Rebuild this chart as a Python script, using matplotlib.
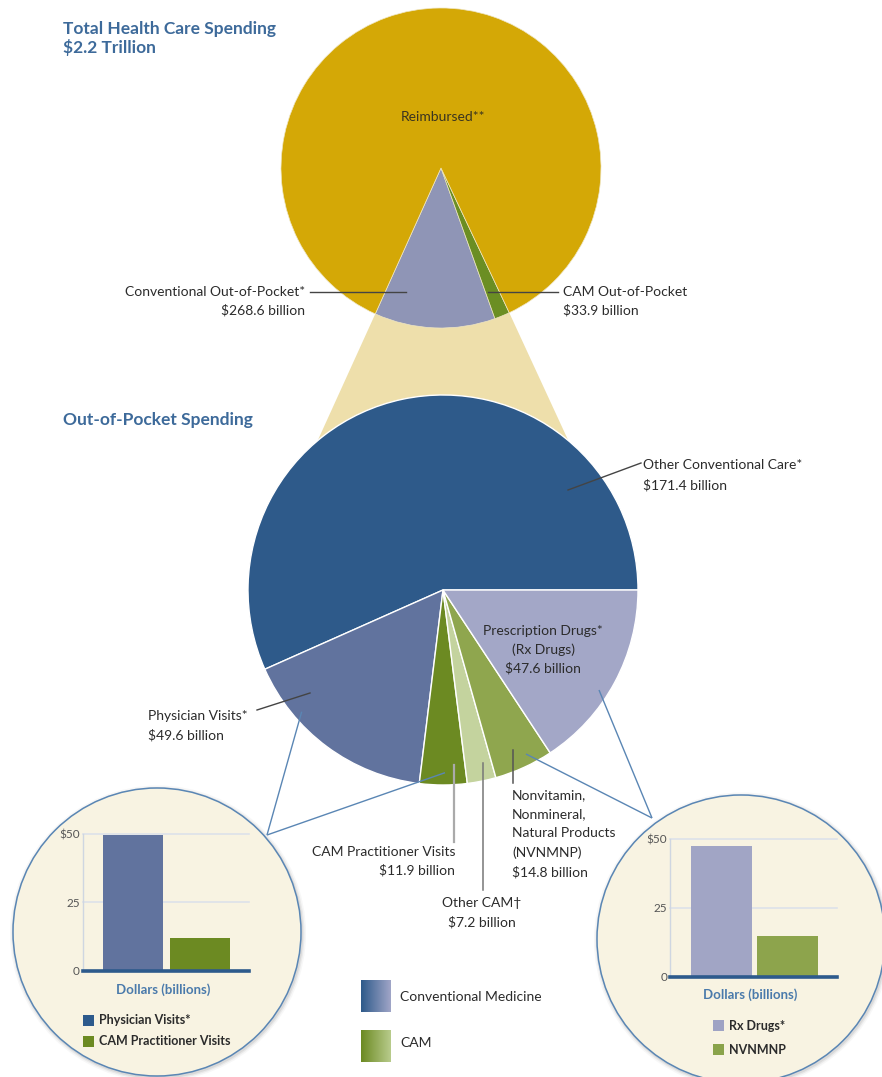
import numpy as np
import matplotlib
matplotlib.use('Agg')
import matplotlib.pyplot as plt
from matplotlib.patches import Polygon, Circle, Rectangle
from matplotlib import font_manager
import matplotlib.colors as mcolors

# ---------------- data ----------------
total_spending = 2200.0                      # billions ($2.2 trillion)
top_labels = ['Conventional Out-of-Pocket*', 'CAM Out-of-Pocket']
top_values = [268.6, 33.9]
reimbursed_value = total_spending - sum(top_values)

oop_labels = ['Other Conventional Care*', 'Physician Visits*', 'CAM Practitioner Visits',
              'Other CAM\u2020', 'Nonvitamin,\nNonmineral,\nNatural Products\n(NVNMNP)',
              'Prescription Drugs*\n(Rx Drugs)']
oop_values = [171.4, 49.6, 11.9, 7.2, 14.8, 47.6]

left_bar_labels = ['Physician Visits*', 'CAM Practitioner Visits']
left_bar_values = [49.6, 11.9]
right_bar_labels = ['Rx Drugs*', 'NVNMNP']
right_bar_values = [47.6, 14.8]
bar_ticks = [0, 25, 50]
bar_tick_labels = ['0', '25', '$50']

# ---------------- fonts ----------------
avail = {f.name for f in font_manager.fontManager.ttflist}
pref = [f for f in ['Lato', 'Open Sans', 'Liberation Sans', 'DejaVu Sans'] if f in avail]
plt.rcParams['font.family'] = pref + ['DejaVu Sans']

W, H = 882, 1077
fig = plt.figure(figsize=(W / 100, H / 100), dpi=100)
ax = fig.add_axes([0, 0, 1, 1])


def Y(y):
    return H - y


TXT = '#2b2b2b'
BLUE_T = '#3d6a9a'
LINEBLUE = '#5a86b4'

# ---------------- top pie ----------------
tc = (441, 168)
tr = 160
oop_frac = sum(top_values) / total_spending
t_start = 270.5 - oop_frac * 360 / 2
ax.pie(top_values + [reimbursed_value], colors=['#8f95b6', '#6b8e23', '#d4a806'],
       startangle=t_start, counterclock=True, center=(tc[0], Y(tc[1])), radius=tr,
       wedgeprops=dict(edgecolor='#efe6c4', linewidth=0.5, zorder=3), frame=True)

# tan connector cone
a0 = np.deg2rad(t_start)
a1 = np.deg2rad(t_start + oop_frac * 360)
mc = (443, 590)
mr = 195
b0, b1 = np.deg2rad(130), np.deg2rad(50)
cone = Polygon([(tc[0] + tr * np.cos(a0), Y(tc[1]) + tr * np.sin(a0)),
                (tc[0] + tr * np.cos(a1), Y(tc[1]) + tr * np.sin(a1)),
                (mc[0] + mr * np.cos(b1), Y(mc[1]) + mr * np.sin(b1)),
                (mc[0], Y(mc[1])),
                (mc[0] + mr * np.cos(b0), Y(mc[1]) + mr * np.sin(b0))],
               closed=True, fc='#eedfab', ec='none', zorder=1)
ax.add_patch(cone)

# ---------------- middle pie ----------------
ax.pie(oop_values, colors=['#2e5a8a', '#61739e', '#6c8a22', '#c4d39e', '#8fa64e', '#a3a7c7'],
       startangle=0, counterclock=True, center=(mc[0], Y(mc[1])), radius=mr,
       wedgeprops=dict(edgecolor='white', linewidth=1.0, zorder=4), frame=True)

# ---------------- inset circles ----------------
circles = [(157, 932, 144), (741, 939, 144)]
for cx, cy, r in circles:
    for k, al in [(4, 0.06), (2.5, 0.10), (1.2, 0.15)]:
        ax.add_patch(Circle((cx + 1, Y(cy) - 1.5), r + k, fc='#7a7a7a', ec='none', alpha=al, zorder=5))
    ax.add_patch(Circle((cx, Y(cy)), r, fc='#f8f3e2', ec=LINEBLUE, lw=1.1, zorder=6))

# connector lines to circles
conn = [((301.7, 711.7), (267, 835)), ((445, 772.7), (267, 835)),
        ((599, 690), (652, 818)), ((526, 754), (652, 818))]
for (x0, y0), (x1, y1) in conn:
    ax.plot([x0, x1], [Y(y0), Y(y1)], color=LINEBLUE, lw=1.0, zorder=7, solid_capstyle='butt')

# ---------------- leader lines ----------------
leaders = [((310, 292), (406, 292), '#444444', 1.0),
           ((488, 292), (558, 292), '#444444', 1.0),
           ((568, 490), (641, 463), '#444444', 1.0),
           ((257, 710), (310, 693), '#444444', 1.0),
           ((454, 765), (454, 842), '#aaaaaa', 1.6),
           ((483, 763), (483, 890), '#777777', 1.1),
           ((512.5, 750), (512.5, 783), '#555555', 1.1)]
for (x0, y0), (x1, y1), c, lw in leaders:
    ax.plot([x0, x1], [Y(y0), Y(y1)], color=c, lw=lw, zorder=8)

# ---------------- texts ----------------
fs = 10
ax.text(63, Y(29), 'Total Health Care Spending', color=BLUE_T, fontsize=12.5, va='center', ha='left', fontweight='bold')
ax.text(63, Y(48), '$2.2 Trillion', color=BLUE_T, fontsize=12.5, va='center', ha='left', fontweight='bold')
ax.text(63, Y(420), 'Out-of-Pocket Spending', color=BLUE_T, fontsize=12.5, va='center', ha='left', fontweight='bold')

ax.text(443, Y(117), 'Reimbursed**', color='#3a3420', fontsize=fs, ha='center', va='center', zorder=9)
ax.text(305, Y(292), top_labels[0], color=TXT, fontsize=fs, ha='right', va='center', zorder=9)
ax.text(305, Y(310), '$%.1f billion' % top_values[0], color=TXT, fontsize=fs, ha='right', va='center', zorder=9)
ax.text(563, Y(292), top_labels[1], color=TXT, fontsize=fs, ha='left', va='center', zorder=9)
ax.text(563, Y(310), '$%.1f billion' % top_values[1], color=TXT, fontsize=fs, ha='left', va='center', zorder=9)

ax.text(643, Y(465), oop_labels[0], color=TXT, fontsize=fs, ha='left', va='center', zorder=9)
ax.text(643, Y(485), '$%.1f billion' % oop_values[0], color=TXT, fontsize=fs, ha='left', va='center', zorder=9)

rx_lines = oop_labels[5].split('\n') + ['$%.1f billion' % oop_values[5]]
for i, s in enumerate(rx_lines):
    ax.text(543, Y(631 + 18.5 * i), s, color=TXT, fontsize=fs, ha='center', va='center', zorder=9)

ax.text(148, Y(716), oop_labels[1], color=TXT, fontsize=fs, ha='left', va='center', zorder=9)
ax.text(148, Y(735), '$%.1f billion' % oop_values[1], color=TXT, fontsize=fs, ha='left', va='center', zorder=9)

ax.text(455, Y(852), oop_labels[2], color=TXT, fontsize=fs, ha='right', va='center', zorder=9)
ax.text(455, Y(870), '$%.1f billion' % oop_values[2], color=TXT, fontsize=fs, ha='right', va='center', zorder=9)

ax.text(482, Y(903), oop_labels[3], color=TXT, fontsize=fs, ha='center', va='center', zorder=9)
ax.text(482, Y(922), '$%.1f billion' % oop_values[3], color=TXT, fontsize=fs, ha='center', va='center', zorder=9)

nv_lines = oop_labels[4].split('\n') + ['$%.1f billion' % oop_values[4]]
for i, s in enumerate(nv_lines):
    ax.text(512, Y(795 + 19.2 * i), s, color=TXT, fontsize=fs, ha='left', va='center', zorder=9)

# ---------------- bottom legend (gradient squares) ----------------
def grad_square(x0, y0, x1, y1, c0, c1):
    c0 = np.array(mcolors.to_rgb(c0)); c1 = np.array(mcolors.to_rgb(c1))
    t = np.linspace(0, 1, 64)[None, :, None]
    img = c0[None, None, :] * (1 - t) + c1[None, None, :] * t
    ax.imshow(img, extent=[x0, x1, Y(y1), Y(y0)], aspect='auto', zorder=9, interpolation='bilinear')

grad_square(361, 980, 391, 1012, '#2e5a8a', '#a0a5c7')
grad_square(361, 1030, 391, 1062, '#6c8a22', '#b8cb8c')
ax.text(400, Y(997), 'Conventional Medicine', color=TXT, fontsize=fs, ha='left', va='center', zorder=9)
ax.text(400, Y(1043), 'CAM', color=TXT, fontsize=fs, ha='left', va='center', zorder=9)

# ---------------- inset bar charts ----------------
def bar_inset(px0, px1, ptop, pbot, values, colors, xlim, width):
    bax = fig.add_axes([px0 / W, (H - pbot) / H, (px1 - px0) / W, (pbot - ptop) / H])
    bax.set_zorder(10)
    bax.patch.set_alpha(0)
    bax.bar(range(len(values)), values, width=width, color=colors, zorder=3)
    bax.set_xlim(*xlim)
    bax.set_ylim(0, 50)
    bax.set_yticks(bar_ticks)
    bax.set_yticklabels(bar_tick_labels)
    bax.set_xticks([])
    for v in bar_ticks[1:]:
        bax.axhline(v, color='#dde2ea', lw=1.2, zorder=1, clip_on=False)
    for s in ['top', 'right']:
        bax.spines[s].set_visible(False)
    bax.spines['left'].set_color('#cfd6e1')
    bax.spines['left'].set_linewidth(1.0)
    bax.spines['bottom'].set_color('#2d5a8c')
    bax.spines['bottom'].set_linewidth(2.6)
    bax.spines['bottom'].set_zorder(4)
    bax.tick_params(axis='y', length=0, pad=2, labelsize=8.5, labelcolor='#555555')
    return bax

bar_inset(82.7, 249.3, 834, 970.7, left_bar_values, ['#61739e', '#6c8a22'], (-0.747, 1.737), 0.9)
bar_inset(670, 837.3, 839.3, 976.7, right_bar_values, ['#a1a5c5', '#8da44c'], (-0.77, 1.743), 0.915)

XL = '#4a7aab'
ax.text(163, Y(990), 'Dollars (billions)', color=XL, fontsize=9.5, ha='center', va='center', zorder=9, fontweight='bold')
ax.text(750, Y(995), 'Dollars (billions)', color=XL, fontsize=9.5, ha='center', va='center', zorder=9, fontweight='bold')

leg = [(82.7, 1015, left_bar_labels[0], '#2d5a8c'), (82.7, 1035.5, left_bar_labels[1], '#6c8a22'),
       (712.7, 1020, right_bar_labels[0], '#9fa3c4'), (712.7, 1044, right_bar_labels[1], '#8aa34a')]
for x, y, lab, c in leg:
    ax.add_patch(Rectangle((x, Y(y + 11)), 11.5, 11, fc=c, ec='none', zorder=9))
    ax.text(x + 16, Y(y + 5.5), lab, color=TXT, fontsize=9, ha='left', va='center', zorder=9, fontweight='bold')

ax.set_xlim(0, W)
ax.set_ylim(0, H)
ax.set_aspect('auto')
ax.axis('off')

fig.savefig('out.png', dpi=100, facecolor='white')
